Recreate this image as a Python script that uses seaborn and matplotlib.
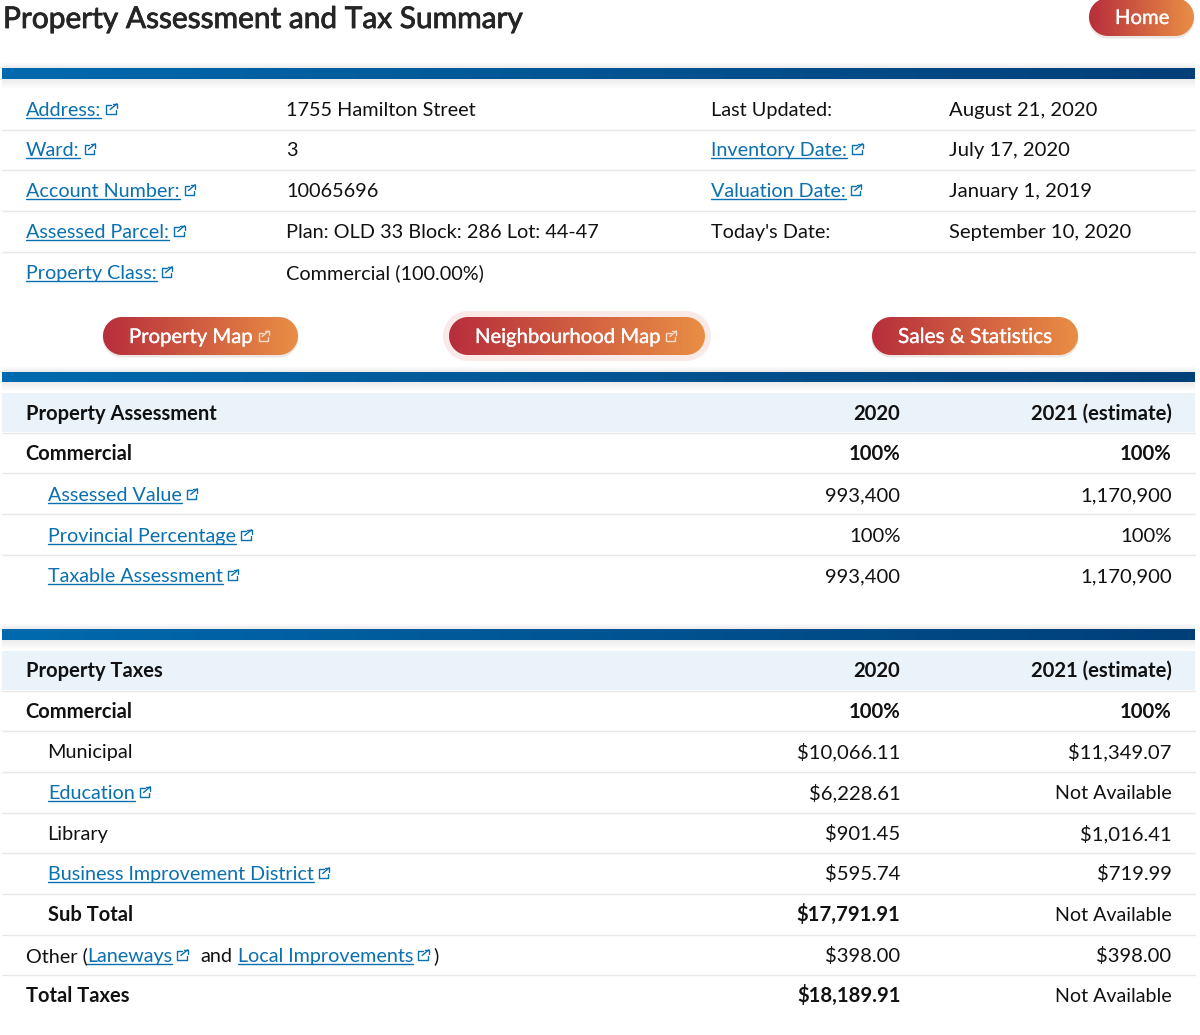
import numpy as np
import matplotlib
matplotlib.use('Agg')
import matplotlib.pyplot as plt
import matplotlib.patheffects as pe
from matplotlib.patches import Polygon
import seaborn as sns

# --- DATA ---
TITLE = 'Property Assessment and Tax Summary'

info_labels_left = ['Address:', 'Ward:', 'Account Number:', 'Assessed Parcel:', 'Property Class:']
info_values_left = ['1755 Hamilton Street', '3', '10065696', 'Plan: OLD 33 Block: 286 Lot: 44-47', 'Commercial (100.00%)']
info_labels_right = ['Last Updated:', 'Inventory Date:', 'Valuation Date:', "Today's Date:"]
info_links_right = [False, True, True, False]
info_values_right = ['August 21, 2020', 'July 17, 2020', 'January 1, 2019', 'September 10, 2020']

assess_labels = ['Property Assessment', 'Commercial', 'Assessed Value', 'Provincial Percentage', 'Taxable Assessment']
assess_2020 = ['2020', '100%', '993,400', '100%', '993,400']
assess_2021 = ['2021 (estimate)', '100%', '1,170,900', '100%', '1,170,900']
assess_links = [False, False, True, True, True]

tax_labels = ['Property Taxes', 'Commercial', 'Municipal', 'Education', 'Library',
              'Business Improvement District', 'Sub Total', None, 'Total Taxes']
tax_2020 = ['2020', '100%', '$10,066.11', '$6,228.61', '$901.45', '$595.74', '$17,791.91', '$398.00', '$18,189.91']
tax_2021 = ['2021 (estimate)', '100%', '$11,349.07', 'Not Available', '$1,016.41', '$719.99',
            'Not Available', '$398.00', 'Not Available']
tax_links = [False, False, False, True, False, True, False, False, False]
tax_bold = [True, True, False, False, False, False, True, False, True]
tax_indent = [False, False, True, True, True, True, True, False, False]

# --- STYLE ---
FONT = 'Lato'
SIZE = 14.3
NUM_SIZE = 14.6
LINK_SIZE = 14.25
NA_SIZE = 14.1
BOLD_SIZE = 14.5
LINK = '#0a70b0'
DARK = '#111111'
RULE = '#e6e8ea'

sns.set_theme(style='white')
plt.rcParams['font.family'] = [FONT, 'DejaVu Sans']

bar_cmap = sns.blend_palette(['#006aae', '#003f78'], as_cmap=True)
pill_cmap = sns.blend_palette(['#b82e3c', '#e98e45'], as_cmap=True)

fig = plt.figure(figsize=(12, 10.35), dpi=100, facecolor='white')
ax = fig.add_axes([0, 0, 1, 1])
ax.set_xlim(0, 1200)
ax.set_ylim(1035, 0)
ax.axis('off')
renderer = fig.canvas.get_renderer()


def text_width(t):
    return t.get_window_extent(renderer).width


def plain(x, y, s, bold=False, ha='left', color=DARK, size=SIZE):
    # y is the middle of the row, the baseline sits 7 px below it
    return ax.text(x, y + 7, s, fontsize=size, color=color, ha=ha, va='baseline',
                   fontweight='bold' if bold else 'normal', zorder=5)


def number(x, y, s, bold=False):
    size = NA_SIZE if s == 'Not Available' else NUM_SIZE
    return plain(x, y, s, bold=bold, ha='right', size=size)


def icon(x, y, color=LINK, s=9.5, lw=1.0):
    """Small external link icon, x is the left edge and y the middle."""
    top, bot = y - s / 2, y + s / 2
    right = x + s
    ax.plot([x + s * 0.5, x, x, right, right], [top + 1, top + 1, bot, bot, y + 1],
            color=color, lw=lw, zorder=6, solid_joinstyle='round')
    ax.plot([x + s * 0.4, right + 1], [y + 0.5, top - 0.5], color=color, lw=lw, zorder=6)
    ax.plot([x + s * 0.68, right + 1, right + 1], [top - 0.5, top - 0.5, y - 1.5], color=color, lw=lw, zorder=6)


def link(x, y, s, with_icon=True):
    t = plain(x, y, s, color=LINK, size=LINK_SIZE)
    w = text_width(t)
    ax.plot([x, x + w], [y + 9, y + 9], color=LINK, lw=1.0, zorder=5)
    if with_icon:
        icon(x + w + 5, y)
    return x + w


def rule(y):
    ax.plot([2, 1195], [y, y], color=RULE, lw=1.0, zorder=1)


def blue_bar(top, bottom):
    grad = np.linspace(0, 1, 256).reshape(1, -1)
    ax.imshow(grad, extent=(2, 1195, bottom, top), cmap=bar_cmap, aspect='auto', zorder=3)
    # soft shadow under and over the bar
    fade = np.linspace(0.10, 0, 32).reshape(-1, 1)
    ax.imshow(np.dstack([np.full_like(fade, 0.2)] * 3 + [fade]),
              extent=(2, 1195, bottom + 10, bottom), aspect='auto', zorder=2)
    ax.imshow(np.dstack([np.full_like(fade, 0.2)] * 3 + [fade[::-1]]),
              extent=(2, 1195, top, top - 6), aspect='auto', zorder=2)


def capsule(x0, x1, y0, y1, **kwargs):
    """Fully round ended button outline as a polygon."""
    r = (y1 - y0) / 2
    cy = (y0 + y1) / 2
    a = np.linspace(-np.pi / 2, np.pi / 2, 40)
    xs = np.r_[x1 - r + r * np.cos(a), x0 + r - r * np.cos(a)]
    ys = np.r_[cy + r * np.sin(a), cy - r * np.sin(a)]
    p = Polygon(np.c_[xs, ys], closed=True, ec='none', **kwargs)
    ax.add_patch(p)
    return p


def pill(x0, x1, y0, y1, label, with_icon=True, halo=False, size=14.6):
    if halo:
        capsule(x0 - 6, x1 + 6, y0 - 6, y1 + 6, fc='#f9e9e7', zorder=2)
    else:
        capsule(x0 - 0.5, x1 + 0.5, y0 + 1, y1 + 2.5, fc='#ebe7e3', zorder=2)
    shape = capsule(x0, x1, y0, y1, fc='none', zorder=3)
    im = ax.imshow(np.linspace(0, 1, 256).reshape(1, -1), extent=(x0, x1, y1, y0),
                   cmap=pill_cmap, aspect='auto', zorder=3)
    im.set_clip_path(shape)
    t = plain(x0 + 26, (y0 + y1) / 2, label, color='white', size=size)
    t.set_path_effects([pe.withStroke(linewidth=0.2, foreground='white')])
    if with_icon:
        icon(x0 + 26 + text_width(t) + 6, (y0 + y1) / 2, color='#f6dccb', s=9)


# --- HEADER ---
title = ax.text(3, 28, TITLE, fontsize=21.5, color='#252525', va='baseline', zorder=5)
title.set_path_effects([pe.withStroke(linewidth=0.6, foreground='#252525')])
pill(1089, 1194, -2, 36, 'Home', with_icon=False)
blue_bar(68, 79)

# --- INFO BLOCK ---
info_y = [109, 149, 190, 231, 272]
for y in [129.5, 170, 211, 251.5]:
    rule(y)
for y, lab, val in zip(info_y, info_labels_left, info_values_left):
    link(26, y, lab)
    plain(286, y, val)
for y, lab, is_link, val in zip(info_y, info_labels_right, info_links_right, info_values_right):
    if is_link:
        link(711, y, lab)
    else:
        plain(711, y, lab)
    plain(949, y, val, size=NUM_SIZE)

pill(103, 298, 317, 355, 'Property Map')
pill(449, 705, 317, 355, 'Neighbourhood Map', halo=True)
pill(872, 1078, 317, 355, 'Sales & Statistics', with_icon=False, size=15)

# --- ASSESSMENT TABLE ---
blue_bar(372, 382)
ax.fill_between([2, 1195], 393, 432, color='#eaf3f9', lw=0, zorder=1)
assess_y = [413, 453, 494, 535, 575]
for y in [432.5, 473, 514, 555]:
    rule(y)
for i, y in enumerate(assess_y):
    bold = i < 2
    if assess_links[i]:
        link(48, y, assess_labels[i])
    else:
        plain(25.5, y, assess_labels[i], bold=bold, size=BOLD_SIZE)
    number(900.5, y, assess_2020[i], bold=bold)
    number(1171.5, y, assess_2021[i], bold=bold)

# --- TAX TABLE ---
blue_bar(629, 640)
ax.fill_between([2, 1195], 651, 690, color='#eaf3f9', lw=0, zorder=1)
tax_y = [670, 711, 751, 792, 833, 873, 914, 955, 995]
for y in [690.5, 731, 772, 812.5, 853, 894, 934.5, 975]:
    rule(y)
for i, y in enumerate(tax_y):
    x = 47.5 if tax_indent[i] else 25.5
    if tax_labels[i] is None:
        # the Other row mixes plain text and two links
        plain(26, y, 'Other (')
        link(87, y, 'Laneways')
        plain(200, y, 'and')
        end = link(238, y, 'Local Improvements')
        plain(end + 20, y, ')')
    elif tax_links[i]:
        link(48, y, tax_labels[i])
    else:
        plain(x, y, tax_labels[i], bold=tax_bold[i], size=BOLD_SIZE if tax_bold[i] else SIZE)
    number(900.5, y, tax_2020[i], bold=tax_bold[i])
    number(1171.5, y, tax_2021[i], bold=(i < 2))

ax.set_xlim(0, 1200)
ax.set_ylim(1035, 0)
fig.savefig('out.png', dpi=100)
